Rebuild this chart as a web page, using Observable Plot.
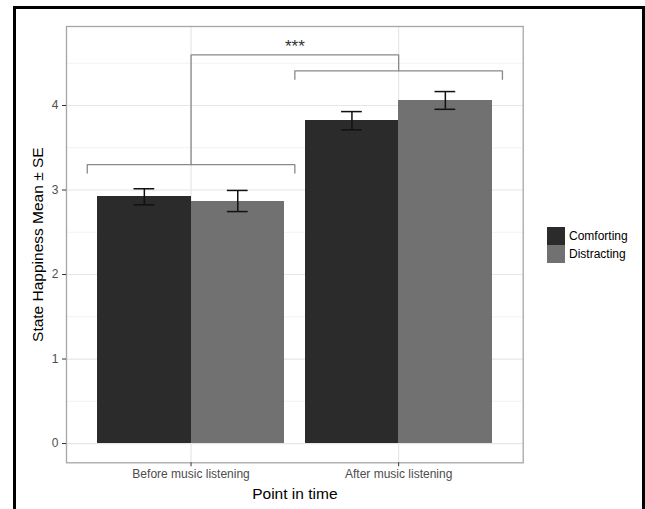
<!DOCTYPE html>
<html>
<head>
<meta charset="utf-8">
<script src="https://cdn.jsdelivr.net/npm/d3@7"></script>
<script src="https://cdn.jsdelivr.net/npm/@observablehq/plot@0.6"></script>
<style>
  html, body { margin: 0; padding: 0; background: #fff; }
  body { width: 645px; height: 509px; position: relative; overflow: hidden; font-family: "Liberation Sans", Arial, sans-serif; }
  #chart { position: absolute; left: 0; top: 0; }
  #frame { position: absolute; left: 13px; top: 6px; width: 632px; height: 520px; box-sizing: border-box; border: 3px solid #000; border-bottom: none; pointer-events: none; }
  #legend { position: absolute; left: 547px; top: 227px; }
  .row { display: flex; align-items: center; height: 18px; }
  .key { width: 18px; height: 18px; }
  .lab { margin-left: 4px; font-size: 12px; color: #000; }
</style>
</head>
<body>
<div id="chart"></div>
<div id="legend"></div>
<div id="frame"></div>
<script>
// ---- data ----
const timepoints = ["Before music listening", "After music listening"];
const groups = ["Comforting", "Distracting"];
const colors = ["#2b2b2b", "#717171"];
const meansComforting = [2.92, 3.82];
const meansDistracting = [2.87, 4.06];
const seComforting = [0.095, 0.108];
const seDistracting = [0.125, 0.105];
const yTicks = [0, 1, 2, 3, 4];
const yMinorTicks = [0.5, 1.5, 2.5, 3.5, 4.5];
const xTickPositions = [1, 2];
const yLabel = "State Happiness Mean \u00b1 SE";
const xLabel = "Point in time";
// significance brackets: [x1, x2, y, left-leg end, right-leg end]
const brackets = [
  {x1: 0.5, x2: 1.5, y: 3.30, yl: 3.20, yr: 3.20},
  {x1: 1.5, x2: 2.5, y: 4.41, yl: 4.31, yr: 4.31},
  {x1: 1.0, x2: 2.0, y: 4.60, yl: 3.30, yr: 4.41}
];
const sigLabel = "***";
const sigX = 1.5;
const sigY = 4.74;

// ---- build table ----
const barWidth = 0.45;   // dodge half-width
const capHalf = 0.05;
const data = [];
timepoints.forEach((t, i) => {
  const c = i + 1;
  data.push({time: t, group: groups[0], mean: meansComforting[i], se: seComforting[i], x1: c - barWidth, x2: c});
  data.push({time: t, group: groups[1], mean: meansDistracting[i], se: seDistracting[i], x1: c, x2: c + barWidth});
});
data.forEach(d => { d.xc = (d.x1 + d.x2) / 2; });

const bracketPts = brackets.flatMap((b, k) => [
  {k, x: b.x1, y: b.yl}, {k, x: b.x1, y: b.y}, {k, x: b.x2, y: b.y}, {k, x: b.x2, y: b.yr}
]);

const plot = Plot.plot({
  width: 530,
  height: 509,
  marginLeft: 66,
  marginRight: 7.3,
  marginTop: 26,
  marginBottom: 46.7,
  style: {background: "transparent", fontFamily: "'Liberation Sans', Arial, sans-serif"},
  x: {domain: [0.4, 2.6]},
  y: {domain: [-0.228, 4.935]},
  color: {domain: groups, range: colors},
  marks: [
    Plot.gridY(yMinorTicks, {stroke: "#f2f2f2", strokeOpacity: 1, strokeWidth: 1}),
    Plot.gridY(yTicks, {stroke: "#e6e6e6", strokeOpacity: 1, strokeWidth: 1.2}),
    Plot.gridX(xTickPositions, {stroke: "#e6e6e6", strokeOpacity: 1, strokeWidth: 1.2}),
    Plot.rectY(data, {x1: "x1", x2: "x2", y1: 0, y2: "mean", fill: "group", shapeRendering: "crispEdges"}),
    Plot.ruleX(data, {x: "xc", y1: d => d.mean - d.se, y2: d => d.mean + d.se, stroke: "#111", strokeWidth: 1.5}),
    Plot.ruleY(data, {y: d => d.mean + d.se, x1: d => d.xc - capHalf, x2: d => d.xc + capHalf, stroke: "#111", strokeWidth: 1.5}),
    Plot.ruleY(data, {y: d => d.mean - d.se, x1: d => d.xc - capHalf, x2: d => d.xc + capHalf, stroke: "#111", strokeWidth: 1.5}),
    Plot.line(bracketPts, {x: "x", y: "y", z: "k", stroke: "#8a8a8a", strokeWidth: 1.3}),
    Plot.text([sigLabel], {x: sigX, y: sigY, text: d => d, fontSize: 17, fill: "#333", dy: 4}),
    Plot.frame({stroke: "#a6a6a6", strokeWidth: 1.3}),
    Plot.axisY(yTicks, {tickSize: 4, tickPadding: 4, fontSize: 12, color: "#4d4d4d", stroke: "#333", label: null, tickFormat: d => String(d)}),
    Plot.axisX(xTickPositions, {tickSize: 4, tickPadding: 3, fontSize: 12, color: "#4d4d4d", stroke: "#333", label: null, tickFormat: d => timepoints[d - 1]}),
    Plot.text([xLabel], {frameAnchor: "bottom", dy: 36, text: d => d, fontSize: 15.5, fill: "#000"}),
    Plot.text([yLabel], {frameAnchor: "left", textAnchor: "middle", dx: -28, rotate: -90, text: d => d, fontSize: 15.5, fill: "#000"})
  ]
});
document.getElementById("chart").appendChild(plot);

const legend = document.getElementById("legend");
groups.forEach((g, i) => {
  const row = document.createElement("div");
  row.className = "row";
  const key = document.createElement("div");
  key.className = "key";
  key.style.background = colors[i];
  const lab = document.createElement("span");
  lab.className = "lab";
  lab.textContent = g;
  row.appendChild(key);
  row.appendChild(lab);
  legend.appendChild(row);
});
</script>
</body>
</html>
